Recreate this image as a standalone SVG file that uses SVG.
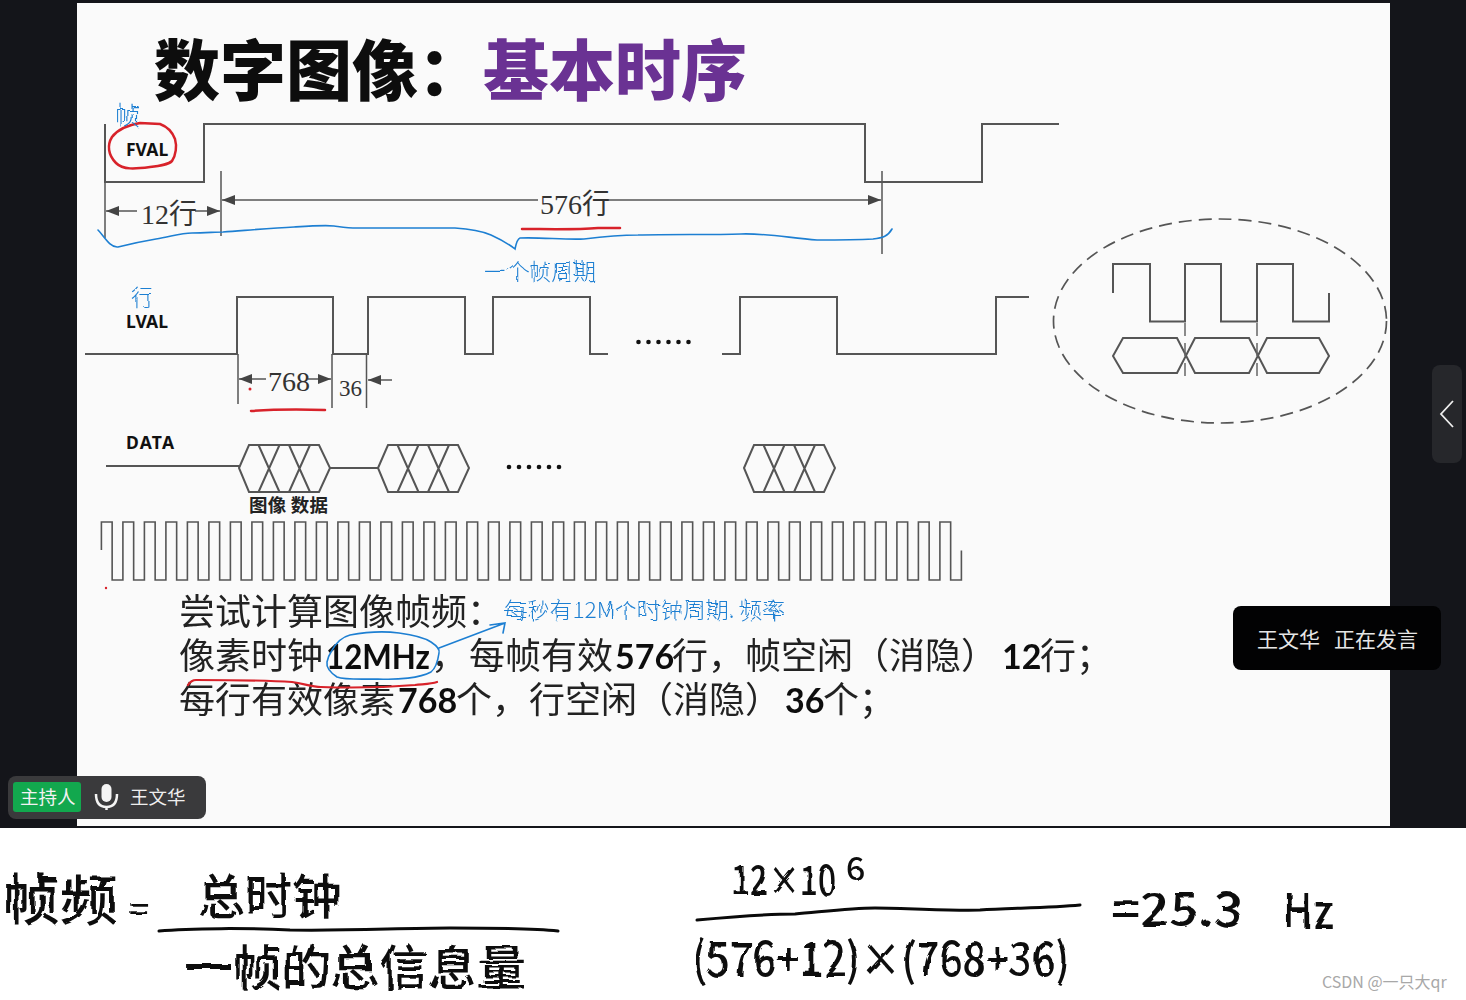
<svg xmlns="http://www.w3.org/2000/svg" width="1466" height="1000" viewBox="0 0 1466 1000">
<style>
text{font-family:"Noto Sans CJK SC","Noto Sans",sans-serif}
.w{fill:none;stroke:#555;stroke-width:2}
.t{fill:none;stroke:#555;stroke-width:1.5}
.dim{fill:none;stroke:#555;stroke-width:1.5}
.lab{font-family:"Noto Sans",sans-serif;font-weight:700;font-size:17.5px;fill:#111}
.dimt{font-family:"Liberation Serif","Noto Sans CJK SC",serif;font-size:28px;fill:#333}
.b{font-size:36px;fill:#222}
.n{font-family:Lato,"Noto Sans",sans-serif;font-weight:700;font-size:34px;fill:#111}
.blue{fill:none;stroke:#1d7fd2;stroke-width:1.6;stroke-linecap:round}
.red{fill:none;stroke:#d8222a;stroke-width:2.5;stroke-linecap:round}
.bt{fill:#1d7fd2;font-weight:300}
.hw{fill:#0a0a0a;font-weight:500}
.ink{fill:none;stroke:#0a0a0a;stroke-width:3;stroke-linecap:round}
.dot{fill:#111}
</style>
<defs>
<marker id="a" markerUnits="userSpaceOnUse" markerWidth="14" markerHeight="12" refX="13" refY="5" orient="auto-start-reverse"><path d="M0 0L13 5L0 10Z" fill="#444"/></marker>
<filter id="hand" x="-5%" y="-20%" width="110%" height="140%"><feTurbulence type="fractalNoise" baseFrequency=".06" numOctaves="2" seed="4"/><feDisplacementMap in="SourceGraphic" scale="5"/></filter>
<filter id="soft"><feGaussianBlur stdDeviation=".35"/></filter>
</defs>
<rect width="1466" height="1000" fill="#14151a"/>
<rect x="0" y="828" width="1466" height="172" fill="#fff"/>
<rect id="slide" x="77" y="3" width="1313" height="823" fill="#fafafa"/>

<g id="title" filter="url(#soft)">
<text x="154" y="95" font-size="66" font-weight="900" fill="#0a0a0a">数字图像：</text>
<text x="483" y="95" font-size="66" font-weight="900" fill="#6a3093">基本时序</text>
</g>

<g id="fval">
<path class="w" d="M105 124V182H204V124H865V182H982V124H1059"/>
<text class="lab" x="126" y="156">FVAL</text>
</g>
<g id="connectors">
<path class="t" d="M105 182V238M221 171V236M882 171V254M238 354V404M332 354V408M366.500 354V408"/>
<path class="dim" marker-start="url(#a)" d="M106 211H137"/>
<path class="dim" marker-end="url(#a)" d="M195 211H220"/>
<path class="dim" marker-start="url(#a)" d="M222 200H538"/>
<path class="dim" marker-end="url(#a)" d="M607 200H881"/>
<path class="dim" marker-start="url(#a)" d="M239 379H266"/>
<path class="dim" marker-end="url(#a)" d="M308 379H331"/>
<path class="dim" marker-start="url(#a)" d="M368 380H392"/>
</g>
<g id="dim-labels">
<text class="dimt" x="141" y="224">12行</text>
<text class="dimt" x="540" y="214">576行</text>
<text class="dimt" x="268" y="391">768</text>
<text class="dimt" x="339" y="396" style="font-size:23px">36</text>
</g>

<g id="lval">
<path class="w" d="M85 354H237V297H333V354H368V297H465V354H493V297H590V354H608"/>
<path class="w" d="M722 354H740V297H837V354H996V297H1029"/>
<circle class="dot" cx="638.500" cy="342" r="2.300"/><circle class="dot" cx="648.500" cy="342" r="2.300"/><circle class="dot" cx="658.500" cy="342" r="2.300"/><circle class="dot" cx="668.500" cy="342" r="2.300"/><circle class="dot" cx="678.500" cy="342" r="2.300"/><circle class="dot" cx="688.500" cy="342" r="2.300"/>
<text class="lab" x="126" y="328">LVAL</text>
</g>

<g id="data">
<text class="lab" x="126" y="449" textLength="48">DATA</text>
<path class="w" d="M106 466H239M330 468H378"/>
<path class="w" d="M239 468L249 445H319L330 468L319 492H249ZM258.500 445L279.500 492M279.500 445L258.500 492M289 445L310 492M310 445L289 492"/>
<path class="w" transform="translate(139 0)" d="M239 468L249 445H319L330 468L319 492H249ZM258.500 445L279.500 492M279.500 445L258.500 492M289 445L310 492M310 445L289 492"/>
<path class="w" transform="translate(505 0)" d="M239 468L249 445H319L330 468L319 492H249ZM258.500 445L279.500 492M279.500 445L258.500 492M289 445L310 492M310 445L289 492"/>
<circle class="dot" cx="509" cy="467" r="2.300"/><circle class="dot" cx="519" cy="467" r="2.300"/><circle class="dot" cx="529" cy="467" r="2.300"/><circle class="dot" cx="539" cy="467" r="2.300"/><circle class="dot" cx="549" cy="467" r="2.300"/><circle class="dot" cx="559" cy="467" r="2.300"/>
<text x="249" y="512" font-size="18.500" font-weight="700" fill="#222" textLength="79">图像 数据</text>
</g>

<g id="clock">
<path fill="none" stroke="#555" stroke-width="1.600" d="M101.400 550V522
h10.750V580h10.750V522h10.750V580h10.750V522h10.750V580h10.750V522h10.750V580h10.750V522h10.750V580h10.750V522h10.750V580h10.750V522h10.750V580h10.750V522h10.750V580h10.750V522h10.750V580h10.750V522h10.750V580h10.750V522
h10.750V580h10.750V522h10.750V580h10.750V522h10.750V580h10.750V522h10.750V580h10.750V522h10.750V580h10.750V522h10.750V580h10.750V522h10.750V580h10.750V522h10.750V580h10.750V522h10.750V580h10.750V522h10.750V580h10.750V522
h10.750V580h10.750V522h10.750V580h10.750V522h10.750V580h10.750V522h10.750V580h10.750V522h10.750V580h10.750V522h10.750V580h10.750V522h10.750V580h10.750V522h10.750V580h10.750V522h10.750V580h10.750V522h10.750V580h10.750V522
h10.750V580h10.750V522h10.750V580h10.750V522h10.750V580h10.750V522h10.750V580h10.750V522h10.750V580h10.750V522h10.750V580h10.750V522h10.750V580h10.750V522h10.750V580h10.750V522h10.750V580h10.750V522
h10.750V580h10.750V550.600"/>
</g>

<g id="detail">
<ellipse cx="1220" cy="321" rx="166.500" ry="102" fill="none" stroke="#555" stroke-width="1.700" stroke-dasharray="13 7"/>
<path class="w" d="M1113 293V264H1150V321.500H1185V264H1221V321.500H1257V264H1293V321.500H1329V293"/>
<path class="w" d="M1113 356L1123 338H1177L1195 373H1249L1267 338H1319L1329 356L1319 373H1267L1249 338H1195L1177 373H1123Z"/>
<path fill="none" stroke="#666" stroke-width="1.500" stroke-dasharray="13 7" d="M1185 323V380M1257 323V380"/>
</g>

<g id="body" filter="url(#soft)">
<text class="b" x="179" y="625">尝试计算图像帧频：</text>
<text class="b" x="179" y="669">像素时钟</text>
<text class="n" x="326" y="669" textLength="104" lengthAdjust="spacingAndGlyphs">12MHz</text>
<text class="b" x="431" y="669">，</text>
<text class="b" x="469" y="669">每帧有效</text>
<text class="n" x="615" y="669">576</text>
<text class="b" x="672" y="669">行，</text>
<text class="b" x="745" y="669">帧空闲（消隐）</text>
<text class="n" x="1002" y="669">12</text>
<text class="b" x="1040" y="669">行；</text>
<text class="b" x="179" y="713">每行有效像素</text>
<text class="n" x="398" y="713">768</text>
<text class="b" x="456" y="713">个，</text>
<text class="b" x="529" y="713">行空闲（消隐）</text>
<text class="n" x="785" y="713">36</text>
<text class="b" x="823" y="713">个；</text>
</g>

<g id="annotations">
<path class="red" d="M140 123L160 124C168 127 172 131 175 139C177 146 176 155 172 161C168 165 160 166 150 167C135 169 123 170 116 163C108 155 107 145 112 137C118 129 128 125 140 123Z"/>
<path class="blue" d="M98 230C104 236 110 248 118 247C130 244 144 241 156 239C170 237 180 233 192 233C205 233 215 232 223 232C250 230 272 228 294 227C310 226 325 225 334 226C342 227 348 228 357 228L455 228C472 229 484 232 491 235C502 240 510 245 515 249C516 244 517 239 520 238C540 237 565 240 584 239C600 237 620 235 638 235C670 234 710 235 741 234C765 233 790 238 817 240C835 240 855 240 873 239C883 238 888 236 892 229"/>
<path class="red" d="M522 229C545 229 575 230 598 228C605 228 612 228 620 228"/>
<path class="red" d="M251 411C265 410 285 409 325 410"/>
<circle cx="250" cy="389" r="1.500" fill="#d8222a"/>
<circle cx="106" cy="588" r="1.200" fill="#d8222a"/>
<path class="red" style="stroke-width:2.200" d="M188 685C190 682 192 680 196 680C225 680 265 680 292 682C305 684 312 687 321 687C350 688 390 687 415 685C424 684 431 684 437 682"/>
<path class="blue" d="M331 652C336 642 342 637 350 635C366 632 384 631 399 633C414 635 425 638 431 642C437 646 440 650 439 653C438 660 436 668 431 672C420 678 398 680 378 679C360 679 345 680 337 677C331 673 326 668 327 662C328 657 329 655 331 652Z"/>
<path class="blue" d="M439 648L505 623M490 625L505 623L503 633"/>
<g filter="url(#hand)">
<text class="bt" x="115" y="125" font-size="25">帧</text>
<text class="bt" x="131" y="305" font-size="22">行</text>
<text class="bt" x="484" y="280" font-size="23" textLength="112" lengthAdjust="spacingAndGlyphs">一个帧周期</text>
<text class="bt" x="504" y="618" font-size="22" textLength="281" lengthAdjust="spacingAndGlyphs">每秒有12M个时钟周期. 频率</text>
</g>
</g>

<g id="speaker">
<rect x="1233" y="606" width="208" height="64" rx="8" fill="#020203"/>
<text x="1257" y="647" font-size="21" fill="#e6e6e6">王文华</text>
<text x="1334" y="647" font-size="21" fill="#e6e6e6">正在发言</text>
</g>
<g id="tab">
<rect x="1432" y="365" width="30" height="98" rx="8" fill="#26272b"/>
<path d="M1453 401L1441 414L1453 427" fill="none" stroke="#eee" stroke-width="1.800"/>
</g>
<g id="host">
<rect x="8" y="776" width="198" height="43" rx="8" fill="#3a3a3c"/>
<rect x="13" y="782" width="68" height="30" rx="3" fill="#12a84e"/>
<text x="20" y="804" font-size="18.500" fill="#f2f2f2">主持人</text>
<rect x="101.500" y="784" width="10" height="18" rx="5" fill="#f4f4f4"/>
<path d="M96 794C96 803 100 807 106.500 807C113 807 117 803 117 794M106.500 807V810" fill="none" stroke="#f4f4f4" stroke-width="2.500"/>
<text x="130" y="804" font-size="18.500" fill="#eee">王文华</text>
</g>

<g id="formula-left">
<g filter="url(#hand)">
<text class="hw" x="2" y="920" font-size="54" textLength="116" lengthAdjust="spacingAndGlyphs">帧频</text>
<text class="hw" x="129" y="921" font-size="34">=</text>
<text class="hw" x="197" y="914" font-size="48" textLength="144" lengthAdjust="spacingAndGlyphs">总时钟</text>
<text class="hw" x="184" y="985" font-size="48" textLength="342" lengthAdjust="spacingAndGlyphs">一帧的总信息量</text>
</g>
<path class="ink" d="M159 931C190 928 250 928 290 930C350 931 400 928 450 928C490 928 530 928 558 931"/>
</g>
<g id="formula-right">
<g filter="url(#hand)">
<text class="hw" x="732" y="895" font-size="40" textLength="104" lengthAdjust="spacingAndGlyphs">12×10</text>
<text class="hw" x="846" y="880" font-size="32">6</text>
<text class="hw" x="692" y="976" font-size="46" textLength="378" lengthAdjust="spacingAndGlyphs">(576+12)×(768+36)</text>
<text class="hw" x="1111" y="926" font-size="46" textLength="132" lengthAdjust="spacingAndGlyphs">=25.3</text>
<text class="hw" x="1283" y="928" font-size="48" textLength="50" lengthAdjust="spacingAndGlyphs">Hz</text>
</g>
<path class="ink" d="M697 920C730 917 770 914 795 914C820 912 850 908 875 908C910 908 950 911 980 910C1010 908 1050 908 1080 905"/>
</g>
<text id="watermark" x="1322" y="988" font-size="16" fill="#a8a8a8">CSDN @一只大qr</text>
</svg>
